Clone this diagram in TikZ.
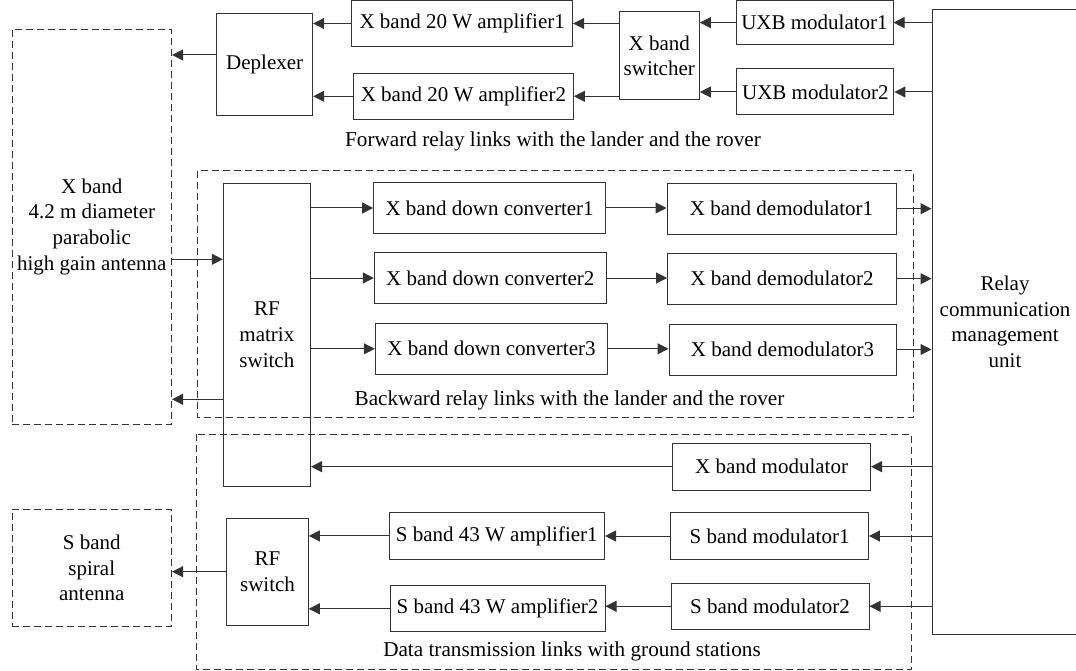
\documentclass[tikz,border=0pt]{standalone}
\usepackage{fontspec}
\setmainfont{Liberation Serif}
\usetikzlibrary{arrows.meta}

\begin{document}
\begin{tikzpicture}[x=1pt, y=-1pt, line width=1pt, draw=black!80,
  blk/.style={draw=black!80, align=center, inner sep=0pt, font=\fontsize{21}{25.8}\selectfont},
  sz/.style 2 args={minimum width=#1pt, minimum height=#2pt},
  grp/.style={draw=black!80, dash pattern=on 7pt off 4pt},
  lbl/.style={inner sep=0pt, font=\fontsize{21.2}{25.8}\selectfont},
  arr/.style={draw=black!80, -{Triangle[length=11pt,width=11pt]}}]
\useasboundingbox (0,0) rectangle (1076,671);

% antennas
\node[blk, grp, sz={159.5}{395}] (xant) at (91.8,226.8) {X band\\4.2 m diameter\\parabolic\\high gain antenna};
\node[blk, grp, sz={159.5}{117.4}] (sant) at (91.8,568) {S band\\spiral\\antenna};

% forward links
\node[blk, sz={96}{101.7}] (depl) at (264.7,64.2) {Deplexer};
\node[blk, sz={221}{45.5}] (xamp1) at (462.2,23.5) {X band 20 W amplifier1};
\node[blk, sz={220}{46}] (xamp2) at (463.4,96.3) {X band 20 W amplifier2};
\node[blk, sz={80}{88.3}] (xsw) at (659.3,55.8) {X band\\switcher};
\node[blk, sz={157}{44.3}] (uxb1) at (814.5,22.6) {UXB modulator1};
\node[blk, sz={157.3}{46}] (uxb2) at (815.3,92) {UXB modulator2};
\node[lbl] (fwd) at (553,141.7) {Forward relay links with the lander and the rover};

% relay unit
\node[blk, sz={146}{625}] (relay) at (1005,321.8) {Relay\\communication\\management\\unit};

% backward links
\draw[grp] (197.3,170.7) rectangle (913,417.3);
\node[blk, sz={87.2}{303.4}] (rfm) at (266.9,335) {RF\\matrix\\switch};
\node[blk, sz={232}{50.6}] (conv1) at (489.6,208) {X band down converter1};
\node[blk, sz={232}{50.6}] (conv2) at (490.3,278) {X band down converter2};
\node[blk, sz={232.3}{51}] (conv3) at (491.5,348.8) {X band down converter3};
\node[blk, sz={229}{50.7}] (dem1) at (781.5,208.7) {X band demodulator1};
\node[blk, sz={229}{50.7}] (dem2) at (782,278.7) {X band demodulator2};
\node[blk, sz={227}{51}] (dem3) at (782.5,349.5) {X band demodulator3};
\node[lbl] (bwd) at (569.5,400) {Backward relay links with the lander and the rover};

% data transmission links
\draw[grp] (196,434) rectangle (911,669.3);
\node[blk, sz={197.8}{46.7}] (xmod) at (771.6,466.7) {X band modulator};
\node[blk, sz={81.6}{106.7}] (rfsw) at (267.5,571.7) {RF\\switch};
\node[blk, sz={215.5}{46.3}] (samp1) at (496.8,535.9) {S band 43 W amplifier1};
\node[blk, sz={215}{45.7}] (samp2) at (497.5,608.8) {S band 43 W amplifier2};
\node[blk, sz={197.7}{46.6}] (smod1) at (769.6,536) {S band modulator1};
\node[blk, sz={198}{46}] (smod2) at (770,606.3) {S band modulator2};
\node[lbl] (dat) at (572,651.7) {Data transmission links with ground stations};

\coordinate (rxin) at (0,259.3);
\coordinate (txout) at (0,399.3);

% forward connectors
\draw[arr] (depl.west |- 0,55) -- (xant.east |- 0,55);
\draw[arr] (xamp1.west) -- (xamp1.west -| depl.east);
\draw[arr] (xamp2.west) -- (xamp2.west -| depl.east);
\draw[arr] (xsw.west |- xamp1.east) -- (xamp1.east);
\draw[arr] (xsw.west |- xamp2.east) -- (xamp2.east);
\draw[arr] (uxb1.west) -- (uxb1.west -| xsw.east);
\draw[arr] (uxb2.west) -- (uxb2.west -| xsw.east);
\draw[arr] (relay.west |- uxb1.east) -- (uxb1.east);
\draw[arr] (relay.west |- uxb2.east) -- (uxb2.east);

% backward connectors
\draw[arr] (xant.east |- rxin) -- (rfm.west |- rxin);
\draw[arr] (rfm.west |- txout) -- (xant.east |- txout);
\foreach \i in {1,2,3} {
  \draw[arr] (rfm.east |- conv\i.west) -- (conv\i.west);
  \draw[arr] (conv\i.east) -- (conv\i.east -| dem\i.west);
  \draw[arr] (dem\i.east) -- (dem\i.east -| relay.west);
}

% data connectors
\draw[arr] (relay.west |- xmod.east) -- (xmod.east);
\draw[arr] (xmod.west) -- (xmod.west -| rfm.east);
\draw[arr] (relay.west |- smod1.east) -- (smod1.east);
\draw[arr] (relay.west |- smod2.east) -- (smod2.east);
\draw[arr] (smod1.west) -- (smod1.west -| samp1.east);
\draw[arr] (smod2.west) -- (smod2.west -| samp2.east);
\draw[arr] (samp1.west) -- (samp1.west -| rfsw.east);
\draw[arr] (samp2.west) -- (samp2.west -| rfsw.east);
\draw[arr] (rfsw.west) -- (rfsw.west -| sant.east);
\end{tikzpicture}
\end{document}
